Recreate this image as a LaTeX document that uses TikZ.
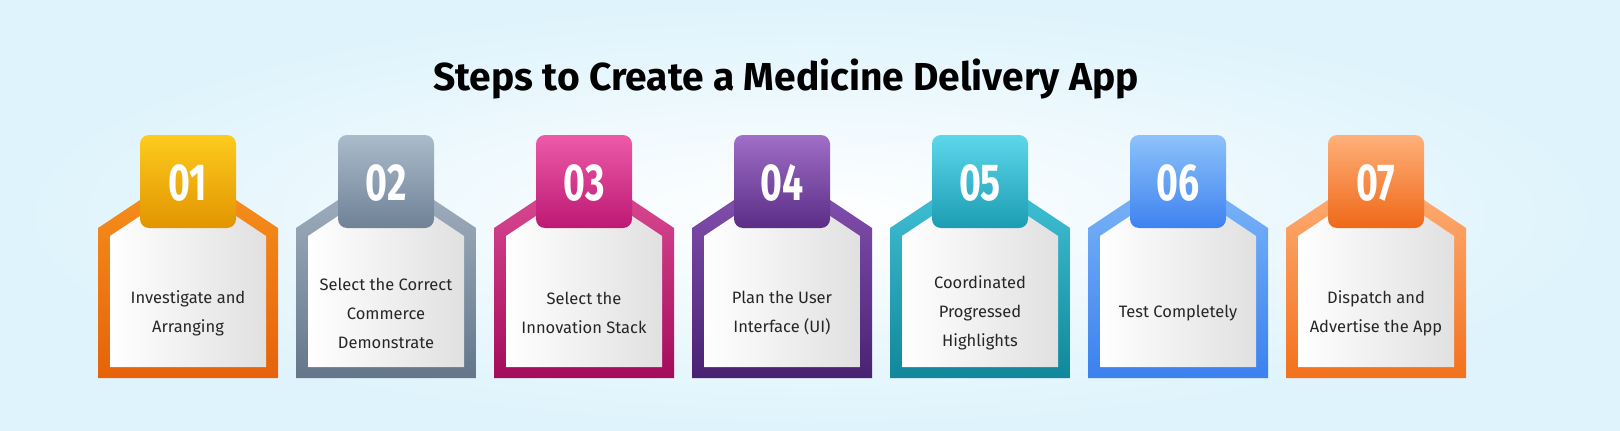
\documentclass[tikz,border=0pt]{standalone}
\usepackage{fontspec}
\setmainfont{Fira Sans}
\usetikzlibrary{calc}
\begin{document}
\begin{tikzpicture}[x=1pt,y=-1pt,
  txt/.style={align=center,font=\fontsize{16.5}{29}\selectfont,text=black!85},
  num/.style={font=\fontsize{52}{52}\selectfont\bfseries,text=white}]
\useasboundingbox (0,0) rectangle (1620,431);
\fill[inner color=white,outer color={rgb,255:red,222;green,243;blue,252}] (0,0) rectangle (1620,431);
\node[font=\fontsize{39}{44}\selectfont\bfseries] (title) at (786,79) {Steps to Create a Medicine Delivery App};
\def\card#1#2#3#4#5#6#7#8{%
  \definecolor{bt}{HTML}{#3}\definecolor{bb}{HTML}{#4}%
  \definecolor{gt}{HTML}{#5}\definecolor{gb}{HTML}{#6}%
  \shade[top color=bt,bottom color=bb] (#1-90,378)--(#1-90,228)--(#1,168)--(#1+90,228)--(#1+90,378)--cycle;
  \shade[left color=white,right color=black!12] (#1-78,367)--(#1-78,236)--(#1,184)--(#1+78,236)--(#1+78,367)--cycle;
  \shade[top color=gt,bottom color=gb,rounded corners=9] (#1-48,135) rectangle (#1+48,228);
  \node[num] (n#2) at (#1,183) {\scalebox{0.72}[1]{#7}};
  \node[txt] (t#2) at (#1,313) {#8};
}
\card{188}{1}{F7931E}{E6620A}{FDCB1E}{E29500}{01}{Investigate and\\Arranging}
\card{386}{2}{A6B5C4}{63768A}{AABBCB}{6F8296}{02}{Select the Correct\\Commerce\\Demonstrate}
\card{584}{3}{E04F98}{A30C5B}{EE5AA8}{BC1973}{03}{Select the\\Innovation Stack}
\card{782}{4}{8A55B5}{482272}{A06FC7}{5A2D86}{04}{Plan the User\\Interface (UI)}
\card{980}{5}{46C6DB}{10879A}{5DD7EA}{1C9CB3}{05}{Coordinated\\Progressed\\Highlights}
\card{1178}{6}{80B9F8}{3B80EE}{8EC2FA}{3E82F0}{06}{Test Completely}
\card{1376}{7}{FFB27C}{F3711C}{FFB07A}{EF6818}{07}{Dispatch and\\Advertise the App}
\end{tikzpicture}
\end{document}
